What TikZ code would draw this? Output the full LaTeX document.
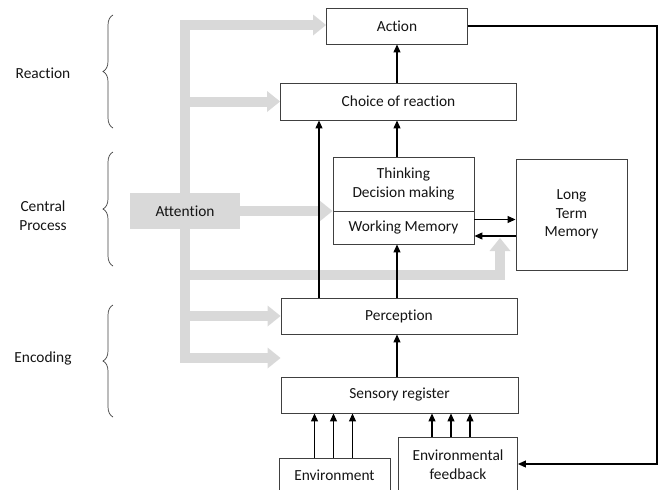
\documentclass[tikz,border=0pt]{standalone}
\usepackage{fontspec}
\setmainfont{Carlito}[Ligatures=CommonOff]
\usetikzlibrary{arrows.meta,decorations.pathreplacing,backgrounds}
\definecolor{gfill}{RGB}{217,217,217}
\definecolor{edge}{RGB}{64,64,64}
\definecolor{txt}{RGB}{20,20,20}
\newcommand{\dfont}{\fontsize{15.4pt}{18.7pt}\selectfont}
\begin{document}
\begin{tikzpicture}[x=1pt,y=-1pt,
  box/.style={draw=edge,line width=0.9pt,fill=white,inner sep=0pt,align=center,font=\dfont,text=txt},
  arr/.style={-{Triangle[width=7pt,length=8pt]},line width=1.1pt,black},
  gline/.style={draw=gfill,line width=10pt,-{Triangle[width=21pt,length=13pt,line width=0pt]}},
  brc/.style={draw=edge,line width=0.7pt,decorate,decoration={brace,amplitude=10pt}},
  lab/.style={font=\dfont,align=center,text=txt}]
\useasboundingbox (0,0) rectangle (659,490);
\clip (0,0) rectangle (659,490);

% boxes
\node[box,minimum width=141pt,minimum height=36pt] (action) at (397,26) {Action};
\node[box,minimum width=236pt,minimum height=37pt] (choice) at (398.5,101.5) {Choice of reaction};
\node[box,minimum width=141pt,minimum height=54pt] (thinking) at (403.5,184) {Thinking\\Decision making};
\node[box,minimum width=141pt,minimum height=33pt] (wm) at (403.5,227.5) {Working Memory};
\node[box,minimum width=111pt,minimum height=111pt] (ltm) at (571.5,214.5) {Long\\Term\\Memory};
\node[fill=gfill,minimum width=110pt,minimum height=36pt,inner sep=0pt,font=\dfont,text=txt] (att) at (185,211) {Attention};
\node[box,minimum width=236pt,minimum height=36pt] (perc) at (399,316) {Perception};
\node[box,minimum width=237pt,minimum height=36pt] (sens) at (399.5,395) {Sensory register};
\node[box,minimum width=111pt,minimum height=34pt] (env) at (334.5,475) {Environment};
\node[box,minimum width=119pt,minimum height=56pt] (fb) at (458,465) {Environmental\\feedback};

% side labels and braces
\node[lab] (lr) at (43,73) {Reaction};
\node[lab] (lc) at (43,216) {Central\\Process};
\node[lab] (le) at (43,358) {Encoding};
\draw[brc] (113,128) -- (113,15);
\draw[brc] (113,266) -- (113,152);
\draw[brc] (113,417) -- (113,305);

% attention arrows (background)
\begin{pgfonlayer}{background}
\coordinate (tt) at (185,25);
\coordinate (tb) at (185,358);
\coordinate (gh) at (185,275);
\coordinate (gu) at (500,238);
\draw[gline] (tb) -- (tt) -- (tt -| action.west);
\draw[gline] (tt) -- (tb) -- (tb -| perc.west);
\draw[gline] (tt |- choice.west) -- (choice.west);
\draw[gline] (att.east) -- (att.east -| thinking.west);
\draw[gline] (tt |- perc.west) -- (perc.west);
\draw[gline] (gh) -- (gh -| gu) -- (gu);
\end{pgfonlayer}

% black arrows
\coordinate (cx) at (397,0);
\coordinate (px) at (319,0);
\coordinate (fr) at (657,464);
\draw[arr] (choice.north -| cx) -- (action.south -| cx);
\draw[arr] (thinking.north -| cx) -- (choice.south -| cx);
\draw[arr] (perc.north -| cx) -- (wm.south -| cx);
\draw[arr] (sens.north -| cx) -- (perc.south -| cx);
\draw[arr] (perc.north -| px) -- (choice.south -| px);
\foreach \d in {-20,-1,18}
  \draw[arr] ([xshift=\d pt]env.north) -- ([xshift=\d pt]env.north |- sens.south);
\foreach \d in {-26,-7,12}
  \draw[arr] ([xshift=\d pt]fb.north) -- ([xshift=\d pt]fb.north |- sens.south);
\draw[arr] ([yshift=8pt]wm.east) -- ([yshift=8pt]wm.east -| ltm.west);
\draw[arr] ([yshift=-8.5pt]wm.east -| ltm.west) -- ([yshift=-8.5pt]wm.east);
\draw[arr] (action.east) -| (fr) -- (fr -| fb.east);
\end{tikzpicture}
\end{document}
